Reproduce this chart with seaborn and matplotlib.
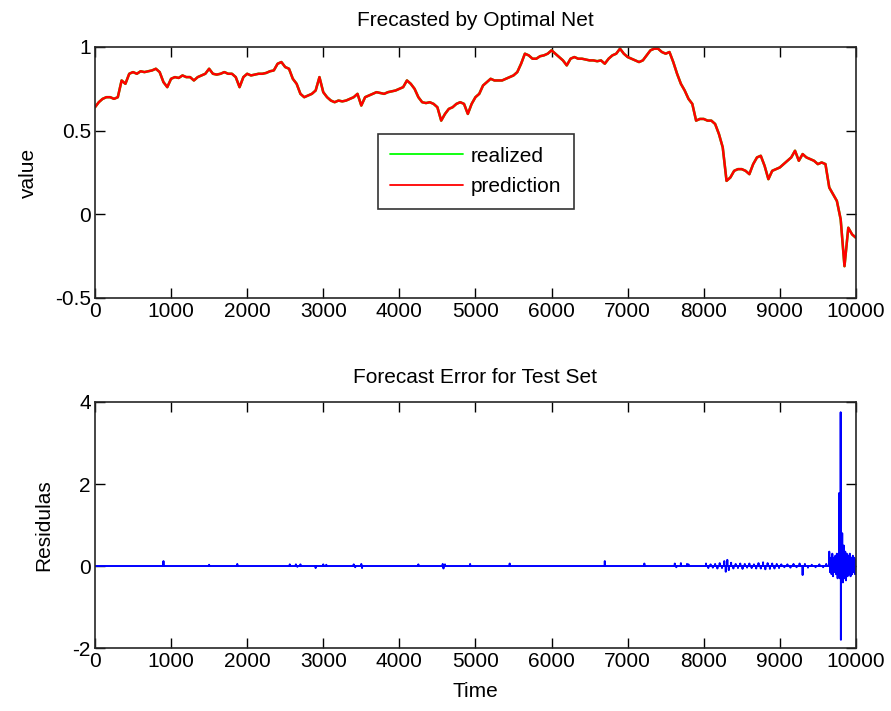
import numpy as np
import pandas as pd
import matplotlib
matplotlib.use("Agg")
import matplotlib.pyplot as plt
import seaborn as sns

# ---- data ----
realized = [
    0.64, 0.67, 0.69, 0.70, 0.70, 0.69, 0.70, 0.80, 0.78, 0.84,
    0.85, 0.84, 0.855, 0.85, 0.855, 0.86, 0.87, 0.85, 0.79, 0.76,
    0.81, 0.82, 0.815, 0.83, 0.82, 0.82, 0.80, 0.82, 0.83, 0.84,
    0.87, 0.84, 0.835, 0.84, 0.85, 0.84, 0.84, 0.82, 0.76, 0.82,
    0.84, 0.83, 0.835, 0.84, 0.84, 0.845, 0.855, 0.86, 0.90, 0.91,
    0.88, 0.87, 0.81, 0.78, 0.72, 0.70, 0.71, 0.72, 0.74, 0.82,
    0.73, 0.70, 0.68, 0.67, 0.68, 0.675, 0.68, 0.69, 0.70, 0.72,
    0.65, 0.70, 0.71, 0.72, 0.73, 0.725, 0.72, 0.73, 0.735, 0.74,
    0.75, 0.76, 0.80, 0.78, 0.75, 0.70, 0.67, 0.665, 0.67, 0.66,
    0.64, 0.56, 0.60, 0.63, 0.64, 0.66, 0.67, 0.66, 0.60, 0.66,
    0.70, 0.72, 0.77, 0.79, 0.81, 0.80, 0.80, 0.80, 0.81, 0.82,
    0.83, 0.85, 0.90, 0.96, 0.95, 0.93, 0.93, 0.945, 0.95, 0.96,
    0.98, 0.96, 0.94, 0.92, 0.89, 0.93, 0.94, 0.93, 0.93, 0.925,
    0.92, 0.92, 0.915, 0.92, 0.90, 0.93, 0.95, 0.96, 0.99, 0.96,
    0.94, 0.93, 0.92, 0.91, 0.92, 0.95, 0.98, 0.99, 0.99, 0.97,
    0.96, 0.97, 0.91, 0.84, 0.78, 0.74, 0.69, 0.66, 0.56, 0.57,
    0.57, 0.56, 0.56, 0.54, 0.48, 0.40, 0.20, 0.22, 0.26, 0.27,
    0.27, 0.26, 0.24, 0.30, 0.34, 0.35, 0.29, 0.21, 0.26, 0.27,
    0.28, 0.30, 0.32, 0.34, 0.38, 0.32, 0.36, 0.34, 0.33, 0.32,
    0.30, 0.31, 0.30, 0.16, 0.12, 0.08, -0.03, -0.31, -0.08, -0.12,
    -0.14,
]
prediction = list(realized)
series_time = np.linspace(0, 10000, len(realized))

# residual spikes on a zero baseline: (time, value)
spike_time = [900, 1500, 1870, 2560, 2640, 2660, 2700, 2900, 3000, 3040,
              3400, 3420, 3500, 3510, 4250, 4570, 4580, 4600, 4930, 5450,
              6700, 7220, 7620, 7640, 7700, 7780, 7800,
              8030, 8060, 8090, 8120, 8150, 8180, 8210, 8240, 8270, 8290,
              8310, 8330, 8360, 8390, 8420, 8450, 8480, 8510, 8540, 8570,
              8600, 8630, 8660, 8690, 8720, 8750, 8780, 8810, 8840, 8870,
              8900, 8930, 8960, 8990, 9020, 9060, 9100, 9140, 9180, 9220,
              9260, 9300, 9330, 9370, 9420, 9470, 9520, 9570, 9610,
              9650, 9660, 9670, 9680, 9690, 9700, 9710, 9720, 9730, 9740,
              9750, 9760, 9770, 9780, 9790, 9800, 9803, 9810, 9820, 9830,
              9840, 9850, 9860, 9870, 9880, 9890, 9900, 9910, 9920, 9930,
              9940, 9950, 9960, 9970, 9980, 9990, 9998]
spike_value = [0.12, 0.03, 0.05, 0.04, 0.04, -0.02, 0.04, -0.05, 0.04, 0.03,
               0.04, -0.03, 0.05, -0.05, 0.04, 0.05, -0.06, 0.04, 0.05, 0.06,
               0.12, 0.06, 0.06, -0.03, 0.07, 0.05, 0.04,
               0.06, -0.05, 0.04, -0.04, 0.05, -0.06, 0.07, -0.05, 0.12, -0.14,
               0.15, -0.10, 0.08, -0.06, 0.05, -0.05, 0.06, -0.07, 0.05, -0.04,
               0.06, -0.05, 0.04, -0.06, 0.07, -0.06, 0.09, -0.08, 0.07, -0.07,
               0.06, -0.06, 0.05, -0.05, 0.04, -0.03, 0.04, -0.04, 0.05, -0.03,
               0.06, -0.22, 0.05, -0.04, 0.03, -0.03, 0.04, -0.03, 0.05,
               0.35, -0.15, 0.20, -0.20, 0.30, -0.25, 0.20, -0.15, 0.25, -0.20,
               0.30, -0.30, 0.25, 1.78, -0.30, 3.75, -1.80, 0.40, 0.80, -0.40,
               0.50, -0.30, 0.35, -0.35, 0.30, -0.25, 0.25, -0.20, 0.30, -0.25,
               0.20, -0.20, 0.25, -0.15, 0.20, -0.20, 0.15]

x_ticks = list(range(0, 10001, 1000))
top_yticks = [-0.5, 0, 0.5, 1]
top_ylabels = ["-0.5", "0", "0.5", "1"]
bot_yticks = [-2, 0, 2, 4]

# build the residual trace: zero baseline with each spike returning to zero
res_t, res_v = [0.0], [0.0]
for t, v in zip(spike_time, spike_value):
    res_t += [t - 1, t, t + 1]
    res_v += [0.0, v, 0.0]
res_t.append(10000.0)
res_v.append(0.0)

df_top = pd.DataFrame({"t": series_time, "realized": realized, "prediction": prediction})
df_res = pd.DataFrame({"t": res_t, "r": res_v})

sns.set_style("ticks")
plt.rcParams["font.family"] = ["Liberation Sans", "DejaVu Sans"]
plt.rcParams["text.color"] = "black"
plt.rcParams["axes.labelcolor"] = "black"
FS = 15

fig = plt.figure(figsize=(8.91, 7.11), dpi=100)
ax1 = fig.add_axes([0.1066, 0.5809, 0.854, 0.353])
ax2 = fig.add_axes([0.1066, 0.0886, 0.854, 0.346])

sns.lineplot(data=df_top, x="t", y="realized", ax=ax1, color=(0, 1, 0), lw=1.8, label="realized", estimator=None)
sns.lineplot(data=df_top, x="t", y="prediction", ax=ax1, color=(1, 0, 0), lw=1.8, label="prediction", estimator=None)
sns.lineplot(data=df_res, x="t", y="r", ax=ax2, color=(0, 0, 1), lw=1.4, estimator=None, sort=False)

for ax in (ax1, ax2):
    ax.set_xlim(0, 10000)
    ax.set_xticks(x_ticks)
    ax.set_xticklabels([str(v) for v in x_ticks])
    ax.tick_params(direction="in", length=7, width=1, top=True, right=True,
                   labelsize=FS, colors="black", pad=3)
    for s in ax.spines.values():
        s.set_visible(True)
        s.set_color("#262626")
        s.set_linewidth(1.2)
    ax.set_facecolor("white")

ax1.set_ylim(-0.5, 1)
ax1.set_yticks(top_yticks)
ax1.set_yticklabels(top_ylabels)
ax1.set_xlabel("")
ax1.set_ylabel("value", fontsize=FS, labelpad=12)
ax1.set_title("Frecasted by Optimal Net", fontsize=FS, pad=15)

ax2.set_ylim(-2, 4)
ax2.set_yticks(bot_yticks)
ax2.set_yticklabels([str(v) for v in bot_yticks])
ax2.set_xlabel("Time", fontsize=FS, labelpad=8)
ax2.set_ylabel("Residulas", fontsize=FS, labelpad=14)
ax2.set_title("Forecast Error for Test Set", fontsize=FS, pad=14)

leg = ax1.legend(loc="center", bbox_to_anchor=(0.369, 0.3546, 0.263, 0.299),
                 fontsize=FS, frameon=True, fancybox=False, shadow=False,
                 handlelength=3.5, handletextpad=0.35, borderpad=0.6,
                 labelspacing=0.55, borderaxespad=0)
leg.get_frame().set_edgecolor("black")
leg.get_frame().set_linewidth(1.2)
for line in leg.get_lines():
    line.set_linewidth(1.3)

fig.savefig("out.png", dpi=100, facecolor="white")
